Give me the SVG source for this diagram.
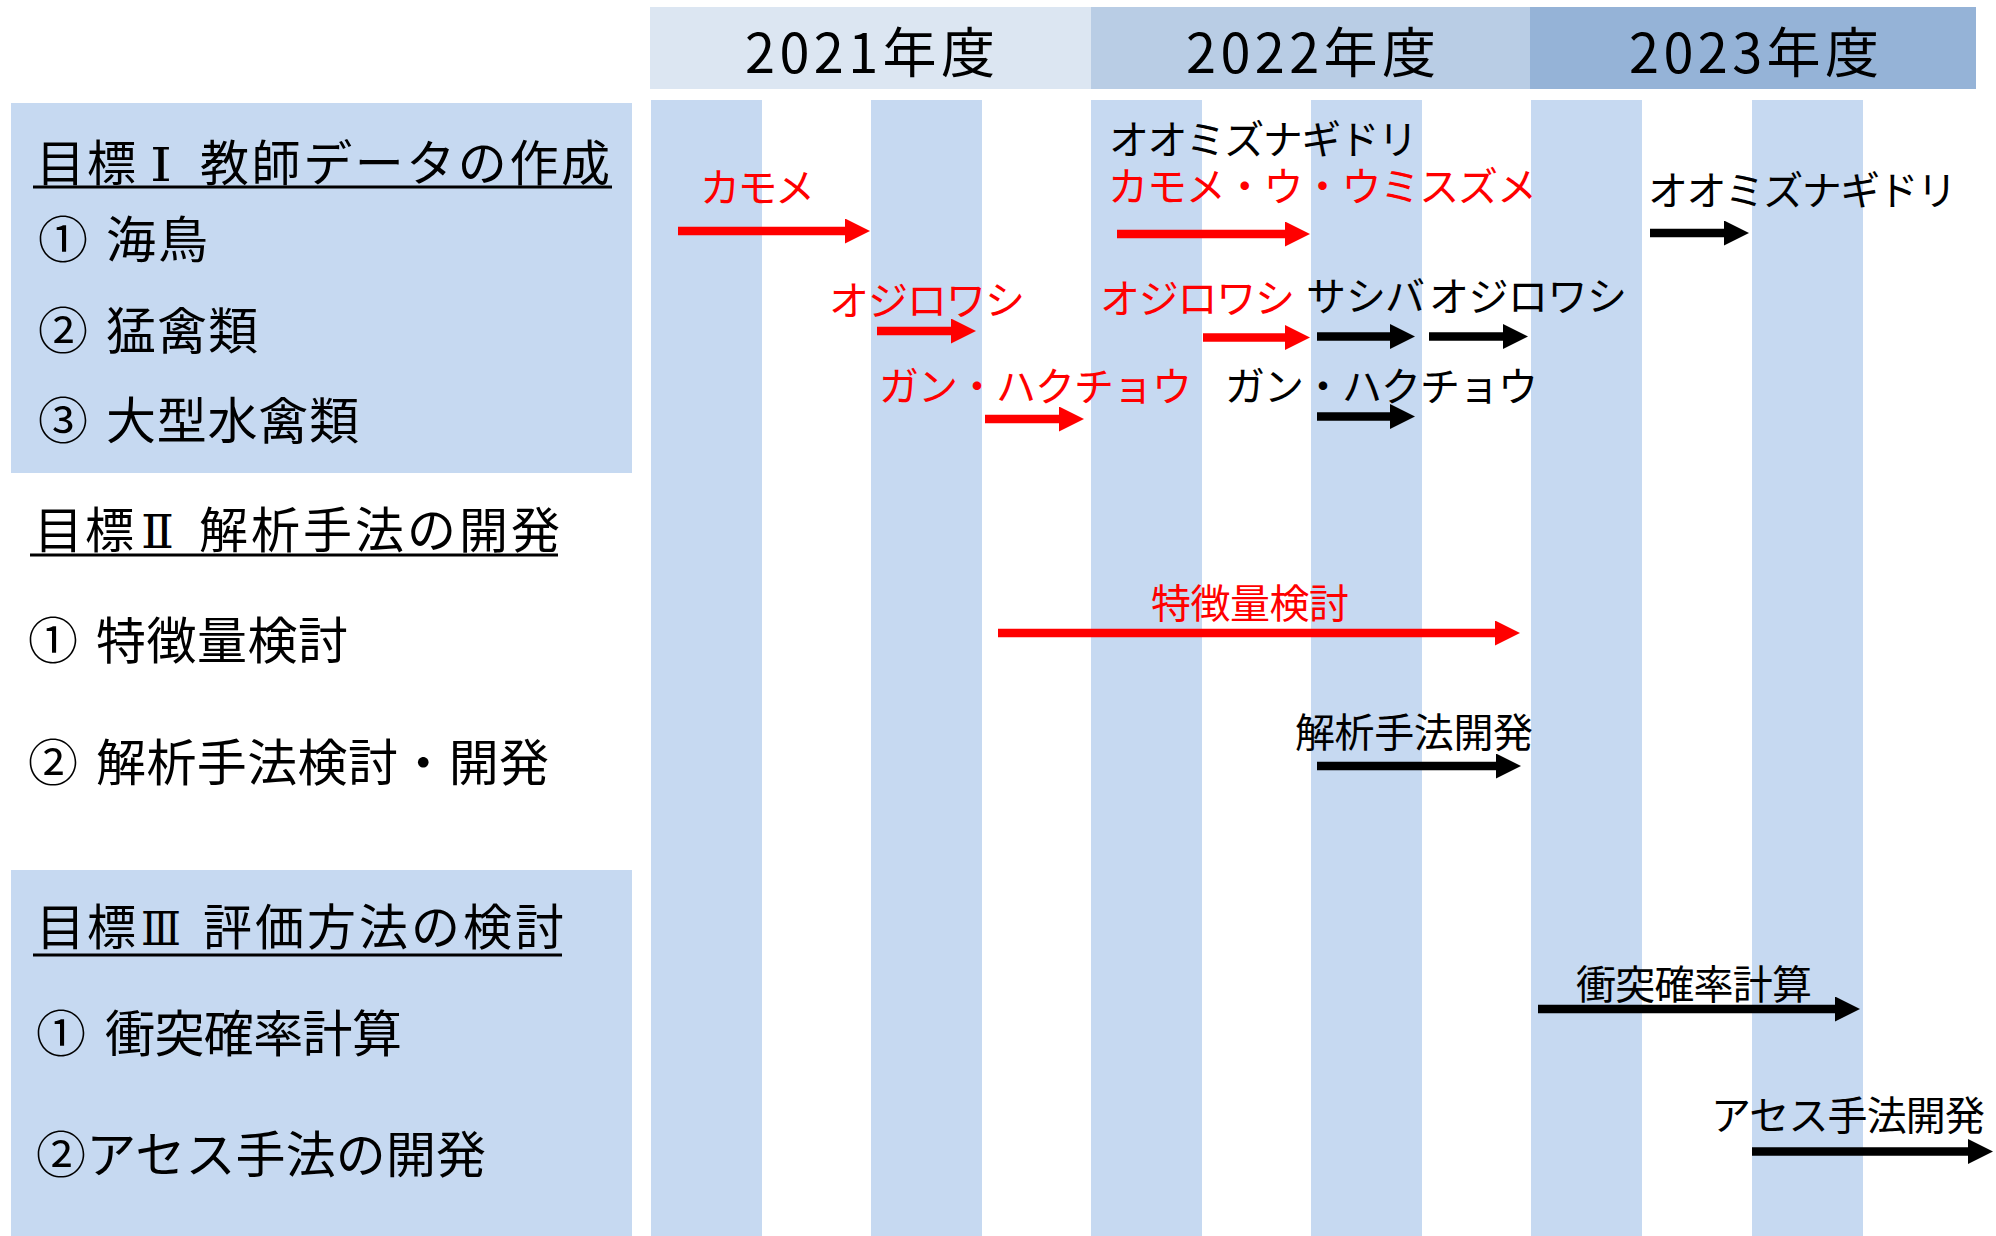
<svg xmlns="http://www.w3.org/2000/svg" width="1996" height="1236" viewBox="0 0 1996 1236">
<style>
text{font-family:"Noto Sans CJK JP","Noto Sans",sans-serif;}
.col{fill:#C6D9F1;}
.panel{fill:#C6D9F1;}
.hd{font-size:54px;fill:#000;text-anchor:middle;}
.ttl{font-size:49px;fill:#000;}
.rn{font-family:"DejaVu Serif","Liberation Serif","Noto Sans CJK JP",serif;font-size:46px;}
.itm{font-size:50px;fill:#000;}
.lbl{font-size:40px;}
.red{fill:#FF0000;}
.blk{fill:#000;}
.ul{stroke:#000;stroke-width:3;}
.ar{stroke-width:8.5;fill:none;}
.arR{stroke:#FF0000;marker-end:url(#ahR);}
.arB{stroke:#000;marker-end:url(#ahB);}
</style>
<defs>
<marker id="ahR" viewBox="0 0 25 25" markerWidth="25" markerHeight="25" refX="1" refY="12.5" orient="auto" markerUnits="userSpaceOnUse"><path d="M0,0 L25,12.5 L0,25 z" fill="#FF0000"/></marker>
<marker id="ahB" viewBox="0 0 25 25" markerWidth="25" markerHeight="25" refX="1" refY="12.5" orient="auto" markerUnits="userSpaceOnUse"><path d="M0,0 L25,12.5 L0,25 z" fill="#000"/></marker>
</defs>
<rect width="1996" height="1236" fill="#FFFFFF"/>
<g id="columns">
<rect class="col" x="651" y="100" width="111" height="1136"/>
<rect class="col" x="871" y="100" width="111" height="1136"/>
<rect class="col" x="1091" y="100" width="111" height="1136"/>
<rect class="col" x="1311" y="100" width="111" height="1136"/>
<rect class="col" x="1531" y="100" width="111" height="1136"/>
<rect class="col" x="1752" y="100" width="111" height="1136"/>
</g>
<g id="header-2021"><rect x="650" y="7" width="441" height="82" fill="#DCE6F2"/><text class="hd" x="870" y="73" textLength="250">2021年度</text></g>
<g id="header-2022"><rect x="1091" y="7" width="439" height="82" fill="#B9CDE5"/><text class="hd" x="1311" y="73" textLength="250">2022年度</text></g>
<g id="header-2023"><rect x="1530" y="7" width="446" height="82" fill="#95B3D7"/><text class="hd" x="1754" y="73" textLength="250">2023年度</text></g>
<g id="goal1">
<rect class="panel" x="11" y="103" width="621" height="370"/>
<text class="ttl" x="36" y="181"><tspan textLength="100">目標</tspan><tspan class="rn" x="150" textLength="22" lengthAdjust="spacingAndGlyphs">Ⅰ</tspan><tspan x="200" textLength="410">教師データの作成</tspan></text>
<line class="ul" x1="33" y1="187" x2="612" y2="187"/>
<text class="itm" x="38" y="258">①<tspan x="106" textLength="102">海鳥</tspan></text>
<text class="itm" x="38" y="349">②<tspan x="106" textLength="152">猛禽類</tspan></text>
<text class="itm" x="38" y="439">③<tspan x="106" textLength="253">大型水禽類</tspan></text>
</g>
<g id="goal2">
<text class="ttl" x="34" y="548"><tspan textLength="100">目標</tspan><tspan class="rn" x="141" textLength="33" lengthAdjust="spacingAndGlyphs">Ⅱ</tspan><tspan x="199" textLength="361">解析手法の開発</tspan></text>
<line class="ul" x1="30" y1="555" x2="558" y2="555"/>
<text class="itm" x="28" y="659">①<tspan x="96" textLength="252">特徴量検討</tspan></text>
<text class="itm" x="28" y="781">②<tspan x="96" textLength="453">解析手法検討・開発</tspan></text>
</g>
<g id="goal3">
<rect class="panel" x="11" y="870" width="621" height="366"/>
<text class="ttl" x="36" y="945"><tspan textLength="100">目標</tspan><tspan class="rn" x="141" textLength="40" lengthAdjust="spacingAndGlyphs">Ⅲ</tspan><tspan x="203" textLength="361">評価方法の検討</tspan></text>
<line class="ul" x1="33" y1="955" x2="562" y2="955"/>
<text class="itm" x="36" y="1052">①<tspan x="105" textLength="297">衝突確率計算</tspan></text>
<text class="itm" x="36" y="1173" textLength="450">②アセス手法の開発</text>
</g>
<g id="labels">
<text class="lbl red" x="700" y="202" textLength="115">カモメ</text>
<text class="lbl red" x="829" y="315" textLength="196">オジロワシ</text>
<text class="lbl red" x="879" y="401" textLength="313">ガン・ハクチョウ</text>
<text class="lbl blk" x="1109" y="154" textLength="309">オオミズナギドリ</text>
<text class="lbl red" x="1108" y="201" textLength="429">カモメ・ウ・ウミスズメ</text>
<text class="lbl red" x="1100" y="313" textLength="195">オジロワシ</text>
<text class="lbl blk" x="1306" y="311" textLength="119">サシバ</text>
<text class="lbl blk" x="1429" y="311" textLength="198">オジロワシ</text>
<text class="lbl blk" x="1225" y="401" textLength="313">ガン・ハクチョウ</text>
<text class="lbl blk" x="1648" y="205" textLength="309">オオミズナギドリ</text>
<text class="lbl red" x="1151" y="618" textLength="198">特徴量検討</text>
<text class="lbl blk" x="1295" y="747" textLength="238">解析手法開発</text>
<text class="lbl blk" x="1576" y="999" textLength="236">衝突確率計算</text>
<text class="lbl blk" x="1711" y="1130" textLength="274">アセス手法開発</text>
</g>
<g id="connectors">
<line class="ar arR" x1="678" y1="231" x2="846" y2="231"/>
<line class="ar arR" x1="877" y1="331" x2="952" y2="331"/>
<line class="ar arR" x1="985" y1="419" x2="1060" y2="419"/>
<line class="ar arR" x1="1117" y1="234" x2="1286" y2="234"/>
<line class="ar arR" x1="1203" y1="337.5" x2="1286" y2="337.5"/>
<line class="ar arR" x1="998" y1="633" x2="1496" y2="633"/>
<line class="ar arB" x1="1317" y1="336.5" x2="1391" y2="336.5"/>
<line class="ar arB" x1="1429" y1="336.5" x2="1504" y2="336.5"/>
<line class="ar arB" x1="1317" y1="416.5" x2="1391" y2="416.5"/>
<line class="ar arB" x1="1650" y1="233" x2="1725" y2="233"/>
<line class="ar arB" x1="1317" y1="766" x2="1497" y2="766"/>
<line class="ar arB" x1="1538" y1="1009" x2="1836" y2="1009"/>
<line class="ar arB" x1="1752" y1="1151.5" x2="1969" y2="1151.5"/>
</g>
</svg>
